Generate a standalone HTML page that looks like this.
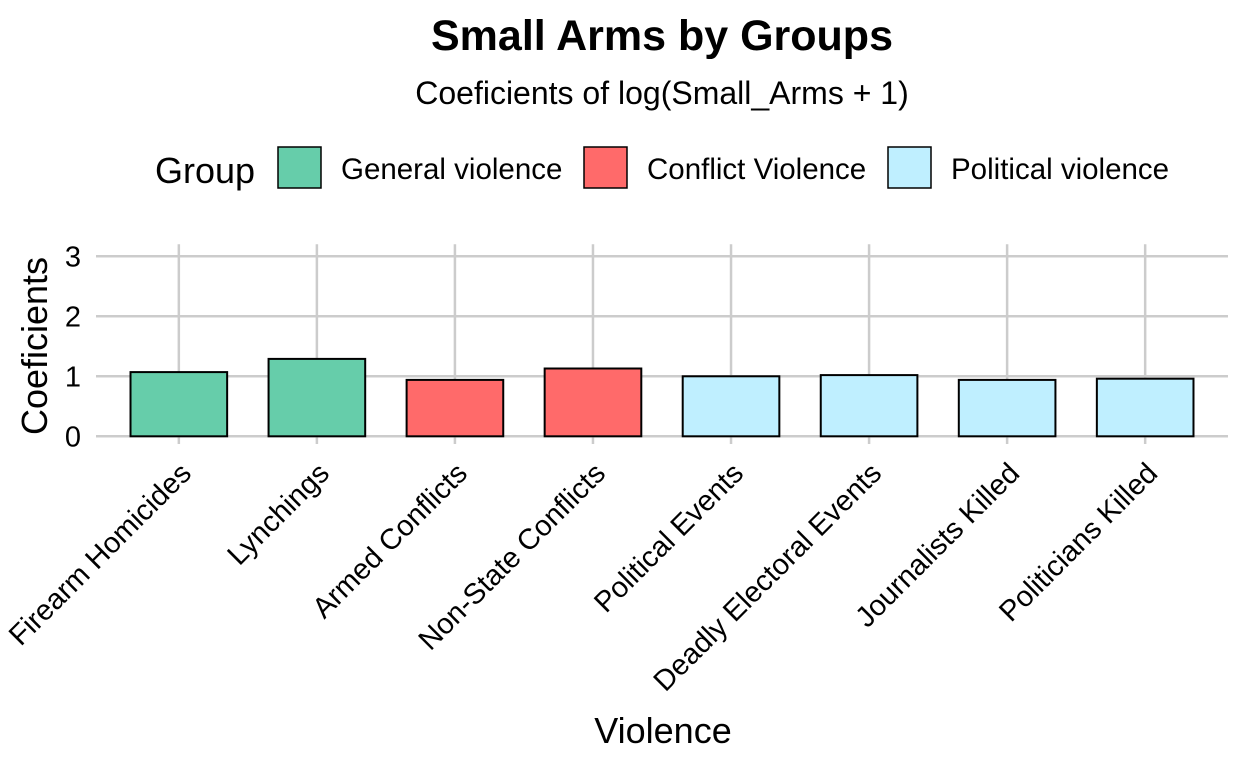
<!DOCTYPE html>
<html><head><meta charset="utf-8"><style>
body{margin:0;background:#fff;}
svg{display:block;font-family:"Liberation Sans",Arial,sans-serif;}
</style></head><body>
<svg id="chart" width="1248" height="768" viewBox="0 0 1248 768">
<text x="662" y="50" text-anchor="middle" font-size="43" font-weight="bold">Small Arms by Groups</text>
<text x="662" y="104" text-anchor="middle" font-size="32">Coeficients of log(Small_Arms + 1)</text>
<g>
<text x="155" y="183" font-size="36">Group</text>
<g><rect x="278" y="147" width="43" height="41" fill="#66cdaa" stroke="#000" stroke-width="1.5"/><text x="341" y="179" font-size="29.5">General violence</text></g>
<g><rect x="584" y="147" width="43" height="41" fill="#ff6a6a" stroke="#000" stroke-width="1.5"/><text x="647" y="179" font-size="29.5">Conflict Violence</text></g>
<g><rect x="888" y="147" width="43" height="41" fill="#bfefff" stroke="#000" stroke-width="1.5"/><text x="951" y="179" font-size="29.5">Political violence</text></g>
</g>
<g id="grid"></g>
<g id="bars"></g>
<g id="yaxis"></g>
<g id="xaxis"></g>
<text transform="translate(47,346) rotate(-90)" text-anchor="middle" font-size="36">Coeficients</text>
<text x="663" y="743" text-anchor="middle" font-size="36">Violence</text>
</svg>
<script>
const categories=["Firearm Homicides","Lynchings","Armed Conflicts","Non-State Conflicts","Political Events","Deadly Electoral Events","Journalists Killed","Politicians Killed"];
const values=[1.07,1.29,0.94,1.13,1.00,1.02,0.94,0.96];
const groups=["General violence","General violence","Conflict Violence","Conflict Violence","Political violence","Political violence","Political violence","Political violence"];
const yTicks=[0,1,2,3];
const colors={"General violence":"#66cdaa","Conflict Violence":"#ff6a6a","Political violence":"#bfefff"};
const NS="http://www.w3.org/2000/svg";
const left=96,right=1228,y0=436.3,pxPerUnit=60;
const step=(right-left)/(categories.length-1+1.2);
const xC=i=>left+step*(0.6+i);
const yS=v=>y0-v*pxPerUnit;
function mk(t,a,p){const e=document.createElementNS(NS,t);for(const k in a)e.setAttribute(k,a[k]);p.appendChild(e);return e;}
const grid=document.getElementById('grid'),bars=document.getElementById('bars'),ya=document.getElementById('yaxis'),xa=document.getElementById('xaxis');
yTicks.forEach(t=>{
 const l=mk('line',{x1:left,x2:right,y1:yS(t),y2:yS(t),stroke:'#cccccc','stroke-width':2.5},grid);
 
 
 const tx=mk('text',{x:81,y:yS(t)+10,'text-anchor':'end','font-size':29},ya);
 tx.textContent=t;
 
 
});
categories.forEach((c,i)=>{
 const l=mk('line',{x1:xC(i),x2:xC(i),y1:yS(3.2),y2:444,stroke:'#cccccc','stroke-width':2.5},grid);
 
 
});
categories.forEach((c,i)=>{
 const w=step*0.7;
 const r=mk('rect',{x:xC(i)-w/2,y:yS(values[i]),width:w,height:values[i]*pxPerUnit,fill:colors[groups[i]],stroke:'#000','stroke-width':2},bars);
 
 
 const tx=mk('text',{transform:`translate(${xC(i)+14},475) rotate(-45)`,'text-anchor':'end','font-size':29},xa);
 tx.textContent=c;
 
 
});
</script>
</body></html>
